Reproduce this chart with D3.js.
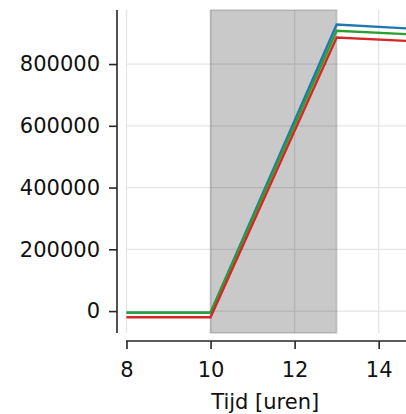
<!DOCTYPE html>
<html>
<head>
<meta charset="utf-8">
<script src="https://cdn.jsdelivr.net/npm/d3@7"></script>
<style>
  body { margin: 0; background: #fff; }
  svg { display: block; font-family: "DejaVu Sans", sans-serif; }
</style>
</head>
<body>
<div id="chart"></div>
<script>
// data
var hours = [8, 10, 13, 16];
var blue  = [-5000, -5000, 928000, 905000];
var green = [-5000, -5000, 908000, 888000];
var red   = [-20000, -20000, 886000, 866000];
var xTicks = [8, 10, 12, 14];
var yTicks = [0, 200000, 400000, 600000, 800000];
var shade = [10, 13];

var width = 406, height = 414;

var x = d3.scaleLinear().domain([8, 14.65]).range([126.5, 406]);
var y = d3.scaleLinear().domain([-71000, 975000]).range([333, 10]);

var svg = d3.select("#chart").append("svg")
    .attr("width", width)
    .attr("height", height);

// grid
svg.append("g").selectAll("line")
    .data(yTicks).enter().append("line")
    .attr("x1", 126).attr("x2", width)
    .attr("y1", d => y(d)).attr("y2", d => y(d))
    .style("stroke", "#e5e5e5").style("stroke-width", 1.3);

svg.append("g").selectAll("line")
    .data(xTicks).enter().append("line")
    .attr("x1", d => x(d)).attr("x2", d => x(d))
    .attr("y1", 10).attr("y2", 333)
    .style("stroke", "#e5e5e5").style("stroke-width", 1.3);

// shaded period
svg.append("rect")
    .attr("x", x(shade[0]))
    .attr("y", 10)
    .attr("width", x(shade[1]) - x(shade[0]))
    .attr("height", 323)
    .style("fill", "#000").style("fill-opacity", 0.21)
    .style("stroke", "#000").style("stroke-opacity", 0.13)
    .style("stroke-width", 2);

// lines
var line = d3.line()
    .x((d, i) => x(hours[i]))
    .y(d => y(d));

var series = [
  {vals: blue, color: "#1f77b4"},
  {vals: green, color: "#2ca02c"},
  {vals: red, color: "#d62728"}
];

svg.append("clipPath").attr("id", "clip")
  .append("rect").attr("x", 126).attr("y", 10).attr("width", 280).attr("height", 323);

svg.append("g").attr("clip-path", "url(#clip)")
  .selectAll("path")
  .data(series).enter().append("path")
  .attr("d", d => line(d.vals))
  .style("fill", "none")
  .style("stroke", d => d.color)
  .style("stroke-width", 2.4);

// axes
var xAxis = svg.append("g")
    .attr("transform", "translate(0,341)")
    .call(d3.axisBottom(x).tickValues(xTicks).tickFormat(d3.format("d")).tickSize(8).tickPadding(13).tickSizeOuter(0));

var yAxis = svg.append("g")
    .attr("transform", "translate(117,0)")
    .call(d3.axisLeft(y).tickValues(yTicks).tickFormat(d3.format("d")).tickSize(8).tickPadding(9).tickSizeOuter(0));

[xAxis, yAxis].forEach(function(a) {
  a.select(".domain").style("stroke", "#262626").style("stroke-width", 1.6);
  a.selectAll(".tick line").style("stroke", "#262626").style("stroke-width", 1.6);
  a.selectAll("text").style("font-family", "DejaVu Sans").style("font-size", "21px").style("fill", "#111");
});

// stretch the spines over the full plot area
xAxis.select(".domain").attr("d", "M" + 126 + ",0H" + width);
yAxis.select(".domain").attr("d", "M0,10V333");

svg.append("text")
    .attr("x", x(11.3))
    .attr("y", 409)
    .attr("text-anchor", "middle")
    .style("font-size", "21px")
    .style("fill", "#111")
    .text("Tijd [uren]");
</script>
</body>
</html>
